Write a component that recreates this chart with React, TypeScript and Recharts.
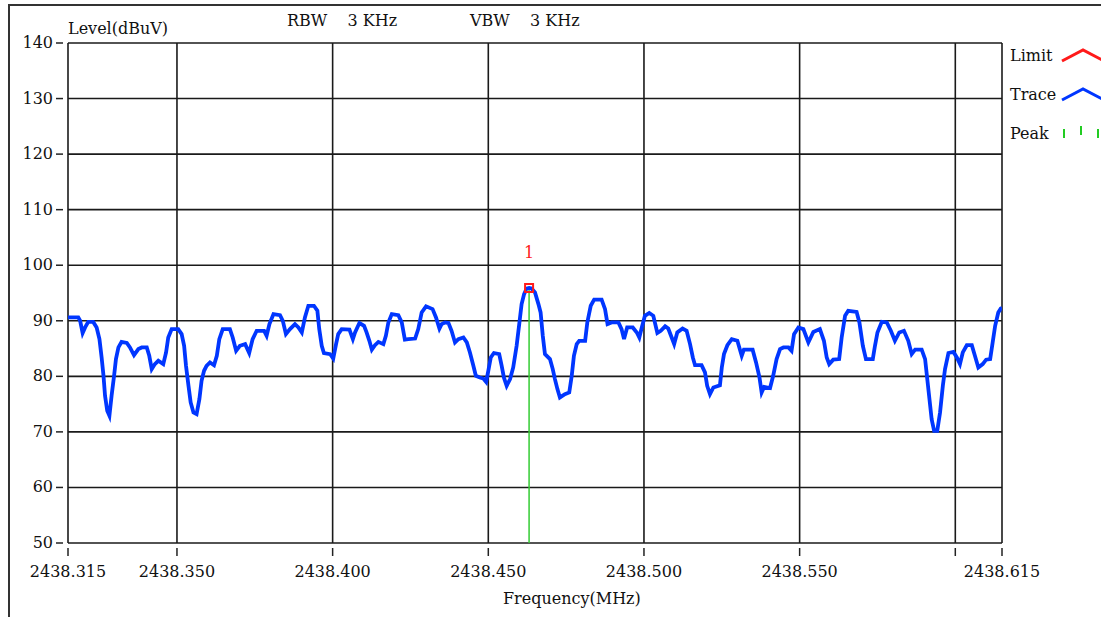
import React from 'react';
import { LineChart, Line, XAxis, YAxis, CartesianGrid, ReferenceLine, ReferenceDot } from 'recharts';

const frequencies = [
  2438.315, 2438.3183, 2438.3189, 2438.3197, 2438.3205, 2438.3215, 2438.3231, 2438.3242, 2438.3251, 2438.3258,
  2438.3264, 2438.3269, 2438.3276, 2438.3283, 2438.329, 2438.3298, 2438.3304, 2438.3312, 2438.3322, 2438.3339,
  2438.3349, 2438.3362, 2438.3376, 2438.3387, 2438.3403, 2438.3411, 2438.3419, 2438.3429, 2438.344, 2438.3456,
  2438.3465, 2438.3472, 2438.3483, 2438.3504, 2438.3515, 2438.3523, 2438.3529, 2438.3537, 2438.3544, 2438.3553,
  2438.3563, 2438.3572, 2438.3579, 2438.3587, 2438.3595, 2438.3606, 2438.3619, 2438.3628, 2438.3636, 2438.3647,
  2438.367, 2438.3679, 2438.369, 2438.3702, 2438.3719, 2438.3732, 2438.3743, 2438.3756, 2438.378, 2438.3788,
  2438.3797, 2438.381, 2438.3831, 2438.384, 2438.385, 2438.3863, 2438.3879, 2438.389, 2438.3901, 2438.3911,
  2438.3922, 2438.394, 2438.3951, 2438.3957, 2438.3965, 2438.3972, 2438.3992, 2438.4002, 2438.4011, 2438.4018,
  2438.4029, 2438.4054, 2438.4065, 2438.4072, 2438.4086, 2438.4101, 2438.4109, 2438.4118, 2438.4126, 2438.4136,
  2438.4147, 2438.4163, 2438.4171, 2438.4179, 2438.419, 2438.4211, 2438.4222, 2438.4232, 2438.4243, 2438.4265,
  2438.4275, 2438.4286, 2438.43, 2438.4321, 2438.4332, 2438.4343, 2438.435, 2438.4361, 2438.4372, 2438.4382,
  2438.4393, 2438.4404, 2438.442, 2438.4431, 2438.4441, 2438.4452, 2438.446, 2438.4473, 2438.4484, 2438.4493,
  2438.45, 2438.4508, 2438.4518, 2438.4535, 2438.4543, 2438.455, 2438.4559, 2438.457, 2438.458, 2438.4591,
  2438.46, 2438.4607, 2438.4615, 2438.4623, 2438.4631, 2438.4639, 2438.465, 2438.4661, 2438.4668, 2438.4675,
  2438.4682, 2438.4698, 2438.4707, 2438.4714, 2438.4722, 2438.473, 2438.4746, 2438.476, 2438.4768, 2438.4775,
  2438.4784, 2438.4792, 2438.4811, 2438.4818, 2438.4829, 2438.484, 2438.4864, 2438.4875, 2438.4883, 2438.4896,
  2438.4918, 2438.4928, 2438.4936, 2438.4946, 2438.4964, 2438.4977, 2438.4985, 2438.4993, 2438.5003, 2438.5017,
  2438.503, 2438.5043, 2438.5054, 2438.5068, 2438.5078, 2438.5089, 2438.5097, 2438.5107, 2438.5124, 2438.5137,
  2438.5148, 2438.5157, 2438.5164, 2438.5185, 2438.5196, 2438.5203, 2438.5212, 2438.5223, 2438.5244, 2438.525,
  2438.5257, 2438.5268, 2438.5282, 2438.53, 2438.5314, 2438.5321, 2438.5349, 2438.536, 2438.5371, 2438.5378,
  2438.5386, 2438.5405, 2438.5415, 2438.5426, 2438.5437, 2438.5448, 2438.5464, 2438.5474, 2438.5482, 2438.5496,
  2438.5512, 2438.5528, 2438.5544, 2438.5565, 2438.5578, 2438.5587, 2438.5595, 2438.5608, 2438.5627, 2438.5635,
  2438.5646, 2438.5656, 2438.5683, 2438.5692, 2438.5703, 2438.5713, 2438.5735, 2438.5742, 2438.575, 2438.5764,
  2438.578, 2438.5793, 2438.5806, 2438.582, 2438.5835, 2438.5849, 2438.586, 2438.5871, 2438.5892, 2438.5903,
  2438.591, 2438.5917, 2438.5924, 2438.5932, 2438.5942, 2438.5951, 2438.596, 2438.5967, 2438.5978, 2438.5994,
  2438.6005, 2438.6015, 2438.6024, 2438.6037, 2438.6053, 2438.6063, 2438.6074, 2438.6088, 2438.6099, 2438.6112,
  2438.612, 2438.6128, 2438.6138, 2438.6146, 2438.615,
];

const levels = [
  90.6, 90.6, 90.0, 87.8, 88.8, 89.8, 89.8, 88.8, 86.7, 83.4,
  80.1, 76.5, 73.8, 72.9, 76.5, 80.1, 83.1, 85.2, 86.2, 86.0,
  85.2, 83.8, 84.9, 85.2, 85.2, 83.7, 81.3, 82.2, 82.8, 82.2,
  84.3, 87.0, 88.5, 88.5, 87.6, 85.5, 81.9, 78.3, 75.3, 73.5,
  73.2, 75.9, 79.2, 81.0, 81.9, 82.5, 82.0, 83.7, 86.7, 88.5,
  88.5, 87.0, 84.6, 85.5, 85.8, 84.2, 86.7, 88.2, 88.2, 87.3,
  89.4, 91.2, 91.0, 90.0, 87.6, 88.5, 89.4, 88.8, 87.9, 90.6,
  92.7, 92.7, 91.8, 88.5, 85.5, 84.2, 84.0, 83.2, 85.8, 87.6,
  88.5, 88.4, 86.7, 87.9, 89.6, 89.1, 87.9, 86.4, 84.8, 85.6,
  86.2, 85.8, 87.3, 89.7, 91.2, 91.0, 89.7, 86.6, 86.7, 86.8,
  88.5, 91.5, 92.6, 92.1, 90.6, 88.6, 89.4, 89.7, 89.6, 88.2,
  86.1, 86.7, 87.0, 86.1, 84.3, 81.9, 80.1, 79.8, 79.6, 79.0,
  81.0, 83.4, 84.2, 84.0, 81.9, 79.8, 78.3, 79.5, 81.6, 85.5,
  89.7, 93.0, 94.8, 95.8, 95.9, 95.8, 95.1, 93.0, 91.5, 87.3,
  84.0, 83.1, 81.3, 79.5, 77.7, 76.2, 76.8, 77.1, 80.1, 83.7,
  85.8, 86.4, 86.4, 89.7, 92.7, 93.8, 93.8, 92.1, 89.4, 89.7,
  89.7, 88.5, 86.7, 88.8, 88.8, 87.9, 87.0, 88.8, 90.9, 91.4,
  90.9, 87.8, 88.2, 89.0, 88.6, 87.0, 85.8, 87.9, 88.6, 88.2,
  85.8, 83.4, 82.0, 82.0, 80.7, 78.3, 76.8, 78.0, 78.4, 81.6,
  84.0, 85.6, 86.7, 86.4, 83.7, 84.8, 84.8, 82.5, 79.8, 77.1,
  78.1, 77.9, 80.1, 83.1, 84.9, 85.2, 85.2, 84.6, 87.6, 88.8,
  88.5, 86.1, 88.0, 88.5, 86.4, 83.4, 82.2, 83.0, 83.1, 87.0,
  90.9, 91.8, 91.6, 89.7, 85.5, 83.1, 83.1, 85.5, 87.9, 89.8,
  89.7, 88.2, 86.4, 87.9, 88.2, 86.4, 84.0, 84.8, 84.8, 83.1,
  79.5, 75.9, 72.3, 70.2, 70.2, 73.5, 78.3, 81.3, 84.2, 84.4,
  83.4, 82.2, 84.3, 85.6, 85.6, 83.7, 81.6, 82.2, 83.0, 83.1,
  86.1, 89.1, 91.5, 92.2, 92.3,
];

const xTicks = [2438.315, 2438.35, 2438.4, 2438.45, 2438.5, 2438.55, 2438.6, 2438.615];
const xTickLabels = ['2438.315', '2438.350', '2438.400', '2438.450', '2438.500', '2438.550', '', '2438.615'];
const yTicks = [50, 60, 70, 80, 90, 100, 110, 120, 130, 140];

const peakFrequency = 2438.4631;
const peakLevel = 95.9;
const peakLabel = '1';

const legendLabels = ['Limit', 'Trace', 'Peak'];
const legendColors = ['#ff1a1a', '#0036ff', '#22cc22'];

const data = frequencies.map((f, i) => ({ freq: f, level: levels[i] }));

const FONT = '"DejaVu Serif", serif';
const TXT = '#111';

const renderYTick = (props: any) => {
  const { x, y, payload } = props;
  return (
    <g>
      <line x1={x - 12} x2={x - 5} y1={y} y2={y} stroke="#222" strokeWidth={1.5} />
      <text x={x - 15} y={y + 5} textAnchor="end" fontFamily={FONT} fontSize={16} fill={TXT}>
        {payload.value}
      </text>
    </g>
  );
};

const renderXTick = (props: any) => {
  const { x, y, payload, index } = props;
  const label = xTickLabels[index] ?? '';
  return (
    <g>
      <line x1={x} x2={x} y1={y + 5} y2={y + 13} stroke="#222" strokeWidth={1.5} />
      {label ? (
        <text x={x} y={y + 34} textAnchor="middle" fontFamily={FONT} fontSize={16} fill={TXT}>
          {label}
        </text>
      ) : null}
    </g>
  );
};

const PeakShape = (props: any) => {
  const { cx, cy } = props;
  return (
    <g>
      <rect x={cx - 4} y={cy - 4} width={8} height={8} fill="none" stroke="#ff1a1a" strokeWidth={2} />
      <text x={cx} y={cy - 30} textAnchor="middle" fontFamily={FONT} fontSize={16} fill="#ff1a1a">
        {peakLabel}
      </text>
    </g>
  );
};

const textStyle: React.CSSProperties = {
  position: 'absolute',
  fontFamily: FONT,
  fontSize: 16,
  color: TXT,
  whiteSpace: 'pre',
  lineHeight: '16px',
};

export default function App() {
  return (
    <div style={{ position: 'absolute', left: 0, top: 0, width: 1101, height: 617, background: '#fff', overflow: 'hidden' }}>
      <div style={{ position: 'absolute', left: 8, top: 4, width: 1200, height: 700, borderTop: '2px solid #333', borderLeft: '2px solid #333' }} />
      <div style={{ position: 'absolute', left: 0, top: 0 }}>
        <LineChart width={1101} height={617} data={data} margin={{ top: 43, right: 99, bottom: 0, left: 0 }}>
          <CartesianGrid stroke="#1a1a1a" strokeWidth={1.6} />
          <XAxis
            dataKey="freq"
            type="number"
            domain={[2438.315, 2438.615]}
            ticks={xTicks}
            height={74}
            tickSize={0}
            tickMargin={0}
            axisLine={false}
            tickLine={false}
            tick={renderXTick}
            interval={0}
            allowDataOverflow
          />
          <YAxis
            type="number"
            domain={[50, 140]}
            ticks={yTicks}
            width={68}
            tickSize={0}
            tickMargin={0}
            axisLine={false}
            tickLine={false}
            tick={renderYTick}
            interval={0}
          />
          <ReferenceLine
            segment={[{ x: peakFrequency, y: 50 }, { x: peakFrequency, y: peakLevel }]}
            stroke="#33cc33"
            strokeWidth={1.5}
          />
          <Line
            type="linear"
            dataKey="level"
            stroke="#0036ff"
            strokeWidth={3.8}
            dot={false}
            isAnimationActive={false}
          />
          <ReferenceDot x={peakFrequency} y={peakLevel} shape={<PeakShape />} />
        </LineChart>
      </div>
      <div style={{ ...textStyle, left: 68, top: 21 }}>Level(dBuV)</div>
      <div style={{ ...textStyle, left: 287, top: 13 }}>{'RBW    3 KHz'}</div>
      <div style={{ ...textStyle, left: 470, top: 13 }}>{'VBW    3 KHz'}</div>
      <div style={{ ...textStyle, left: 503, top: 591 }}>Frequency(MHz)</div>
      {legendLabels.map((lab, i) => (
        <div key={lab} style={{ ...textStyle, left: 1010, top: 48 + i * 39 }}>{lab}</div>
      ))}
      <svg style={{ position: 'absolute', left: 1055, top: 40 }} width={46} height={110}>
        <polyline points="7,21 28,10 49,21" fill="none" stroke={legendColors[0]} strokeWidth={3} />
        <polyline points="7,60 28,49 49,60" fill="none" stroke={legendColors[1]} strokeWidth={3} />
        <line x1={9} x2={9} y1={89} y2={98} stroke={legendColors[2]} strokeWidth={2} />
        <line x1={26} x2={26} y1={86} y2={95} stroke={legendColors[2]} strokeWidth={2} />
        <line x1={43} x2={43} y1={89} y2={98} stroke={legendColors[2]} strokeWidth={2} />
      </svg>
    </div>
  );
}
